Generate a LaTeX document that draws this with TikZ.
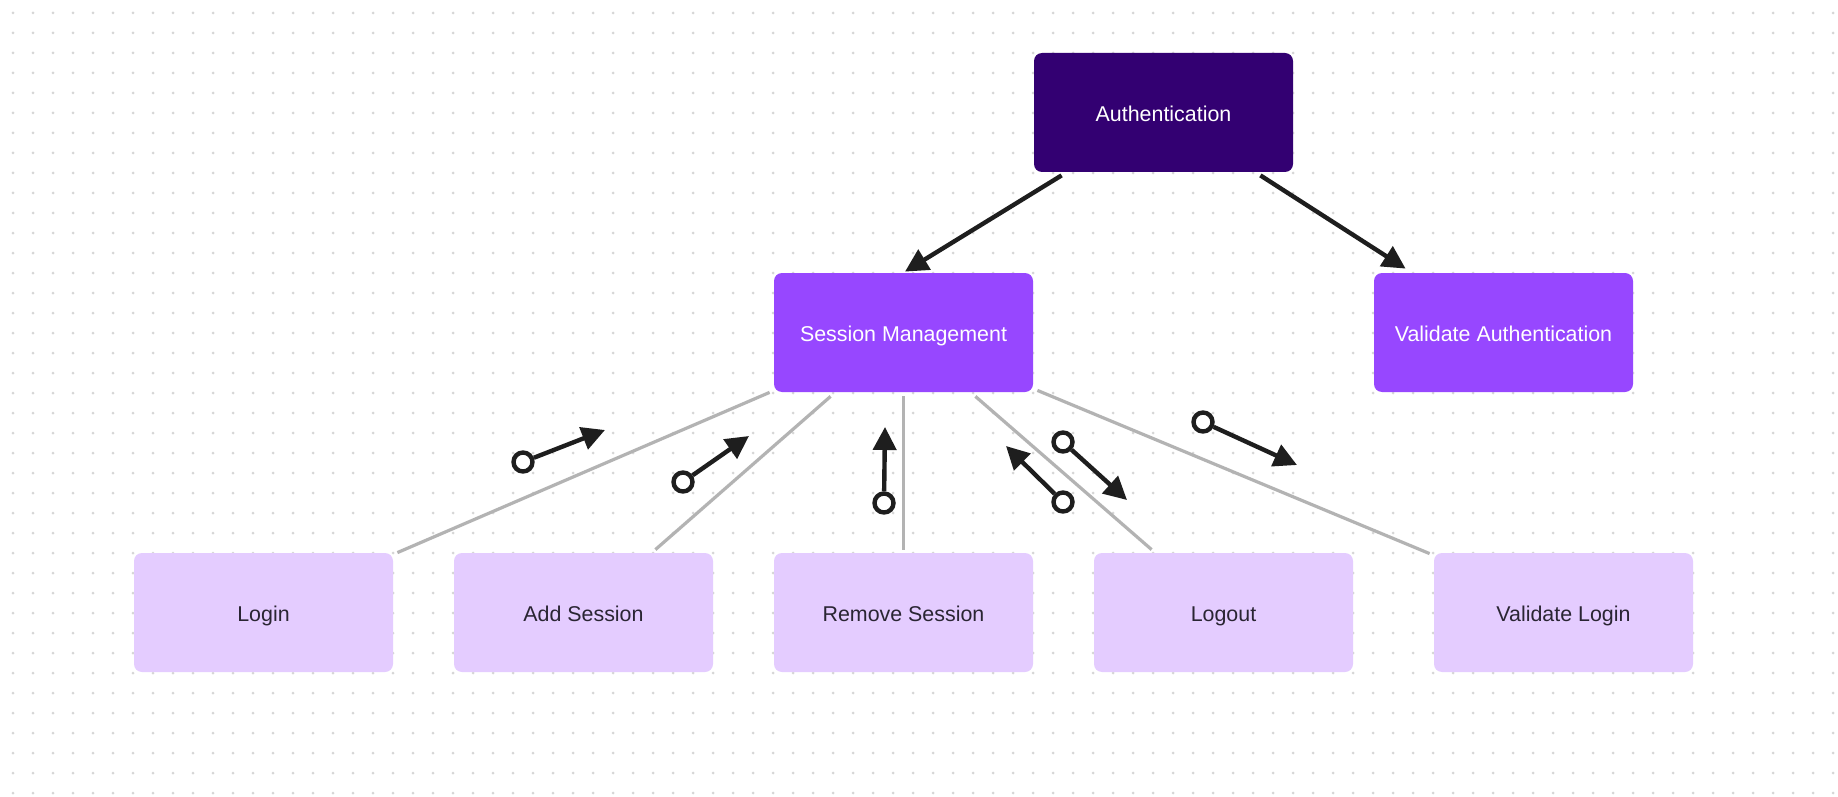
\documentclass[tikz,border=0pt]{standalone}
\usepackage{fontspec}
\setmainfont{Liberation Sans}
\usetikzlibrary{arrows.meta,calc}
\definecolor{authc}{HTML}{330072}
\definecolor{midc}{HTML}{9747FF}
\definecolor{lightc}{HTML}{E4CCFF}
\definecolor{inkc}{HTML}{1E1E1E}
\definecolor{txtc}{HTML}{2A2533}
\definecolor{grayc}{HTML}{B3B3B3}
\definecolor{dotc}{HTML}{D6D6D6}
\tikzset{
  box/.style={rectangle, rounded corners=4pt, minimum width=129.5pt, minimum height=59.5pt, inner sep=0pt, text height=10pt, text depth=1.2pt, font=\fontsize{10.7pt}{12pt}\selectfont},
  topbox/.style={box, fill=authc, text=white},
  midbox/.style={box, fill=midc, text=white},
  leafbox/.style={box, fill=lightc, text=txtc},
  hier/.style={draw=inkc, line width=2.2pt, -{Triangle[length=11.5pt,width=11.5pt]}},
  link/.style={draw=grayc, line width=1.6pt},
  msgstart/.style={circle, draw=inkc, line width=2.2pt, minimum size=9.5pt, inner sep=0pt, fill=white},
  msg/.style={draw=inkc, line width=2.2pt, -{Triangle[length=11.5pt,width=11.5pt]}},
}
\begin{document}
\begin{tikzpicture}[x=0.5pt,y=-0.5pt]
\useasboundingbox[fill=white] (0,0) rectangle (1838,797);
\foreach \i in {0,...,91}{
  \foreach \j in {0,...,39}{
    \fill[dotc] ({13+20*\i},{13+20*\j}) circle (0.75pt);
  }
}
% nodes
\node[topbox] (auth) at (1163.5,112.5) {Authentication};
\node[midbox] (sm) at (903.5,332.5) {Session Management};
\node[midbox] (va) at (1503.5,332.5) {Validate Authentication};
\node[leafbox] (login) at (263.5,612.5) {Login};
\node[leafbox] (add) at (583.5,612.5) {Add Session};
\node[leafbox] (remove) at (903.5,612.5) {Remove Session};
\node[leafbox] (logout) at (1223.5,612.5) {Logout};
\node[leafbox] (vl) at (1563.5,612.5) {Validate Login};
% hierarchy arrows
\draw[hier] ($(auth.south west)+(28,3)$) -- ($(sm.north)+(1.5,-1)$);
\draw[hier] ($(auth.south east)+(-33,3)$) -- ($(va.north west)+(32,-4)$);
% gray links
\draw[link] ($(sm.south west)+(-4,0)$) -- ($(login.north east)+(4,0)$);
\draw[link] ($(sm.south west)+(57,4)$) -- ($(add.north east)+(-58,-3)$);
\draw[link] ($(sm.south)+(0,4)$) -- ($(remove.north)+(0,-3)$);
\draw[link] ($(sm.south east)+(-58,4)$) -- ($(logout.north west)+(58,-3)$);
\draw[link] ($(sm.south east)+(4,-2)$) -- ($(vl.north west)+(-4,1)$);
% message arrows
\node[msgstart] (c1) at (523,462) {};
\coordinate (t1) at (605,430);
\node[msgstart] (c2) at (683,482) {};
\coordinate (t2) at (749,436);
\node[msgstart] (c3) at (884,503) {};
\coordinate (t3) at (885,427);
\node[msgstart] (c4) at (1063,502) {};
\coordinate (t4) at (1006,446);
\node[msgstart] (c5) at (1063,442) {};
\coordinate (t5) at (1127,500);
\node[msgstart] (c6) at (1203,422) {};
\coordinate (t6) at (1297,465);
\foreach \k in {1,...,6}{
  \draw[msg] (c\k) -- (t\k);
}
\end{tikzpicture}
\end{document}
